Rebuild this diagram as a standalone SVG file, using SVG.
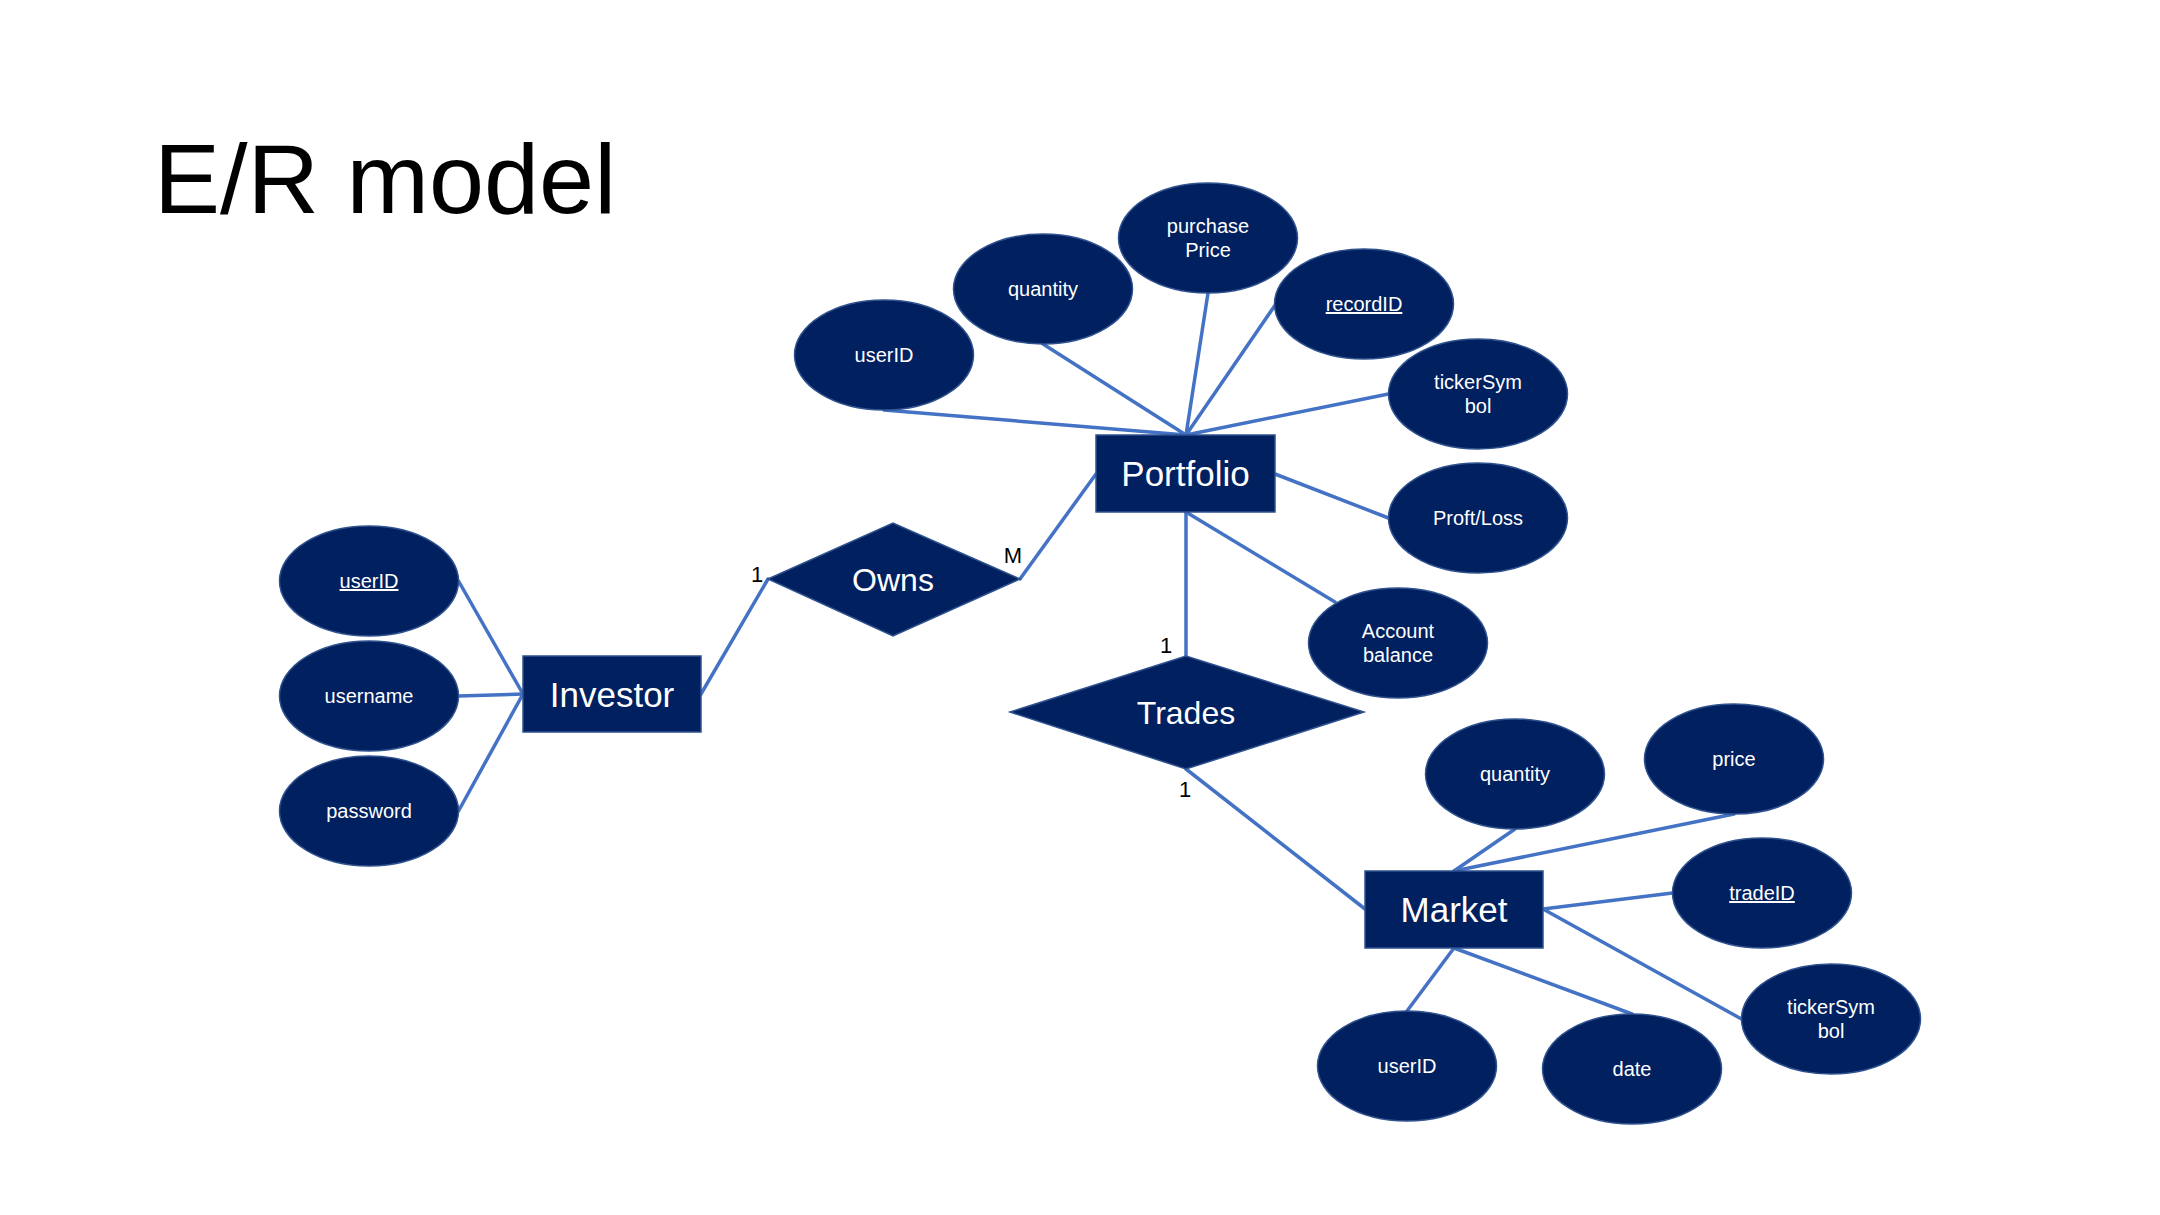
<svg xmlns="http://www.w3.org/2000/svg" width="2160" height="1215" viewBox="0 0 2160 1215">
<style>
.bg{fill:#ffffff}
.conn line{stroke:#4472C4;stroke-width:3.5;stroke-linecap:round}
.ent rect,.rel polygon,.att ellipse{fill:#002060;stroke:#2F528F;stroke-width:1.5}
.t{font-family:"Liberation Sans",Arial,Helvetica,sans-serif;fill:#ffffff;text-anchor:middle}
.et{font-size:35px}
.rt{font-size:32px}
.at{font-size:20px}
.u{text-decoration:underline}
.card{font-family:"Liberation Sans",Arial,Helvetica,sans-serif;font-size:22px;fill:#000000;text-anchor:middle}
.title{font-family:"Liberation Sans",Arial,Helvetica,sans-serif;font-size:99px;fill:#000000}
</style>
<rect class="bg" x="0" y="0" width="2160" height="1215"/>
<text class="title" x="154" y="213">E/R model</text>

<g id="connectors" class="conn">
  <line x1="458.5" y1="581" x2="523" y2="694"/>
  <line x1="458.5" y1="696" x2="523" y2="694"/>
  <line x1="458.5" y1="811" x2="523" y2="694"/>
  <line x1="701" y1="694" x2="768" y2="579"/>
  <line x1="1020" y1="579" x2="1096" y2="474"/>
  <line x1="884" y1="410" x2="1186" y2="435"/>
  <line x1="1043" y1="344" x2="1186" y2="435"/>
  <line x1="1208" y1="293" x2="1186" y2="435"/>
  <line x1="1274.5" y1="306" x2="1186" y2="435"/>
  <line x1="1388.5" y1="394" x2="1186" y2="435"/>
  <line x1="1275" y1="474" x2="1388.5" y2="518"/>
  <line x1="1186" y1="512" x2="1335" y2="602"/>
  <line x1="1186" y1="512" x2="1186" y2="656"/>
  <line x1="1186" y1="769" x2="1365" y2="909"/>
  <line x1="1515" y1="829" x2="1454" y2="871"/>
  <line x1="1734" y1="814" x2="1454" y2="871"/>
  <line x1="1543" y1="909" x2="1672.5" y2="893"/>
  <line x1="1543" y1="909" x2="1741.5" y2="1019"/>
  <line x1="1454" y1="948" x2="1407" y2="1011"/>
  <line x1="1454" y1="948" x2="1632" y2="1014"/>
  <text class="card" x="757" y="582">1</text>
  <text class="card" x="1013" y="563">M</text>
  <text class="card" x="1166" y="653">1</text>
  <text class="card" x="1185" y="797">1</text>
</g>

<g id="investor" class="ent"><rect x="523" y="656" width="178" height="76"/><text class="t et" x="612" y="706.5">Investor</text></g>
<g id="portfolio" class="ent"><rect x="1096" y="435" width="179" height="77"/><text class="t et" x="1185.5" y="486">Portfolio</text></g>
<g id="market" class="ent"><rect x="1365" y="871" width="178" height="77"/><text class="t et" x="1454" y="922">Market</text></g>

<g id="owns" class="rel"><polygon points="768,579 893,523 1020,579 893,636"/><text class="t rt" x="893" y="591">Owns</text></g>
<g id="trades" class="rel"><polygon points="1010,712 1186,656 1364,712 1186,769"/><text class="t rt" x="1186" y="724">Trades</text></g>

<g id="inv-userID" class="att"><ellipse cx="369" cy="581" rx="89.5" ry="55"/><text class="t at u" x="369" y="588">userID</text></g>
<g id="inv-username" class="att"><ellipse cx="369" cy="696" rx="89.5" ry="55"/><text class="t at" x="369" y="703">username</text></g>
<g id="inv-password" class="att"><ellipse cx="369" cy="811" rx="89.5" ry="55"/><text class="t at" x="369" y="818">password</text></g>

<g id="pf-userID" class="att"><ellipse cx="884" cy="355" rx="89.5" ry="55"/><text class="t at" x="884" y="362">userID</text></g>
<g id="pf-quantity" class="att"><ellipse cx="1043" cy="289" rx="89.5" ry="55"/><text class="t at" x="1043" y="296">quantity</text></g>
<g id="pf-purchasePrice" class="att"><ellipse cx="1208" cy="238" rx="89.5" ry="55"/><text class="t at" x="1208" y="233">purchase</text><text class="t at" x="1208" y="257">Price</text></g>
<g id="pf-recordID" class="att"><ellipse cx="1364" cy="304" rx="89.5" ry="55"/><text class="t at u" x="1364" y="311">recordID</text></g>
<g id="pf-tickerSymbol" class="att"><ellipse cx="1478" cy="394" rx="89.5" ry="55"/><text class="t at" x="1478" y="389">tickerSym</text><text class="t at" x="1478" y="413">bol</text></g>
<g id="pf-proftLoss" class="att"><ellipse cx="1478" cy="518" rx="89.5" ry="55"/><text class="t at" x="1478" y="525">Proft/Loss</text></g>
<g id="pf-accountBalance" class="att"><ellipse cx="1398" cy="643" rx="89.5" ry="55"/><text class="t at" x="1398" y="638">Account</text><text class="t at" x="1398" y="662">balance</text></g>

<g id="mk-quantity" class="att"><ellipse cx="1515" cy="774" rx="89.5" ry="55"/><text class="t at" x="1515" y="781">quantity</text></g>
<g id="mk-price" class="att"><ellipse cx="1734" cy="759" rx="89.5" ry="55"/><text class="t at" x="1734" y="766">price</text></g>
<g id="mk-tradeID" class="att"><ellipse cx="1762" cy="893" rx="89.5" ry="55"/><text class="t at u" x="1762" y="900">tradeID</text></g>
<g id="mk-tickerSymbol" class="att"><ellipse cx="1831" cy="1019" rx="89.5" ry="55"/><text class="t at" x="1831" y="1014">tickerSym</text><text class="t at" x="1831" y="1038">bol</text></g>
<g id="mk-userID" class="att"><ellipse cx="1407" cy="1066" rx="89.5" ry="55"/><text class="t at" x="1407" y="1073">userID</text></g>
<g id="mk-date" class="att"><ellipse cx="1632" cy="1069" rx="89.5" ry="55"/><text class="t at" x="1632" y="1076">date</text></g>
</svg>
